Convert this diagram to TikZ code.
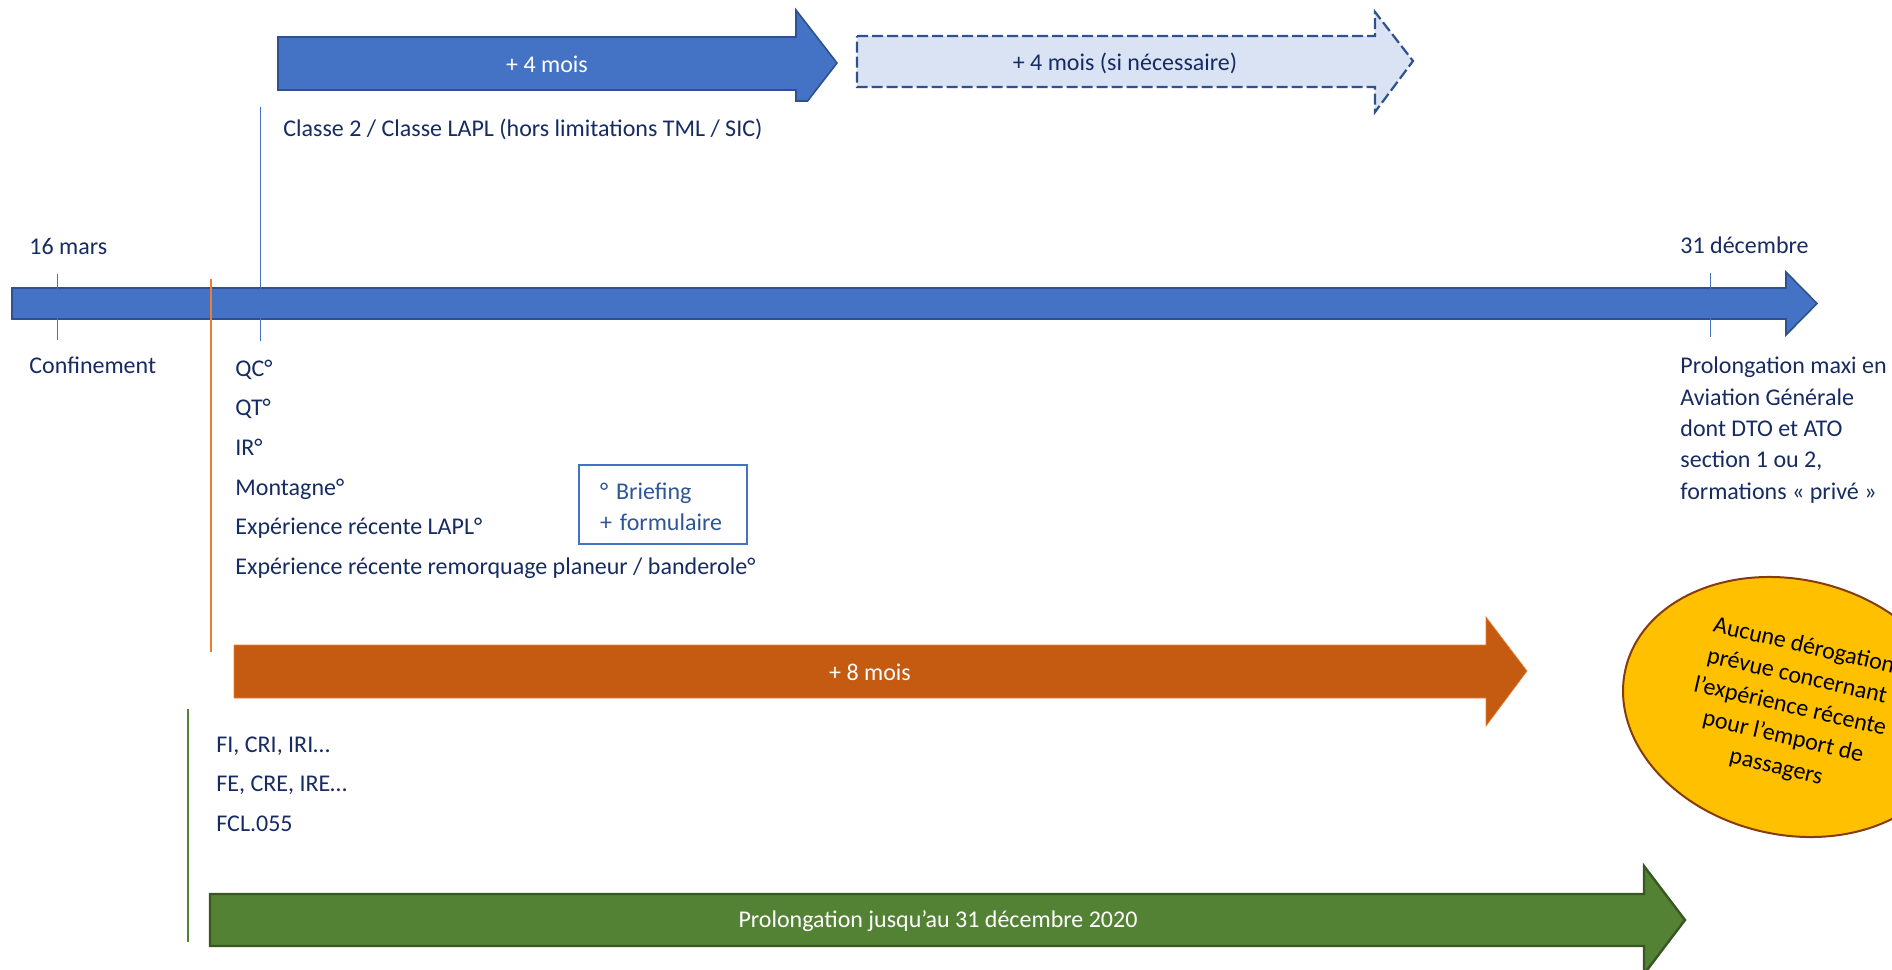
\documentclass[tikz,border=0pt]{standalone}
\usepackage{fontspec}
\setmainfont{Carlito}
\usepackage{tikz}
\usetikzlibrary{positioning,shapes.geometric}

\definecolor{timeblue}{HTML}{4472C4}
\definecolor{edgeblue}{HTML}{2F528F}
\definecolor{paleblue}{HTML}{DAE3F3}
\definecolor{navytext}{RGB}{22,43,98}
\definecolor{brieftext}{HTML}{2F5597}
\definecolor{rustfill}{HTML}{C55A11}
\definecolor{rustline}{HTML}{ED7D31}
\definecolor{leaffill}{HTML}{548235}
\definecolor{leafedge}{HTML}{385723}
\definecolor{goldfill}{HTML}{FFC000}
\definecolor{goldedge}{HTML}{843C0C}

\begin{document}
\begin{tikzpicture}[x=0.5pt,y=-0.5pt,node distance=19.85pt,
    lbl/.style={inner sep=0pt,anchor=base west,text=navytext,
      font=\fontsize{12}{15.65}\selectfont},
    inlbl/.style={inner sep=0pt,anchor=base,text=white,
      font=\fontsize{12}{15.65}\selectfont},
    tick/.style={timeblue,line width=0.5pt},
    bluearrow/.style={fill=timeblue,draw=edgeblue,line width=0.8pt,line join=miter},
    dasharrow/.style={fill=paleblue,draw=edgeblue,line width=1.1pt,
      dash pattern=on 5.5pt off 2pt},
    rustarrow/.style={fill=rustfill,draw=rustline,line width=0.3pt},
    leafarrow/.style={fill=leaffill,draw=leafedge,line width=1.2pt},
    briefbox/.style={draw=timeblue,line width=0.6pt,text=brieftext,align=left,
      inner xsep=10.5pt,text width=63pt,minimum height=39.5pt,
      font=\fontsize{12}{15.5}\selectfont},
    bubble/.style={ellipse,fill=goldfill,draw=goldedge,line width=1pt,
      minimum width=168.8pt,minimum height=127.6pt,inner sep=0pt,
      align=center,rotate=-13,font=\fontsize{12}{15.5}\selectfont}]
  \useasboundingbox (0,0) rectangle (1892,970);

  % arrows
  \draw[bluearrow] (12,288) -- (1786,288) -- (1786,272) -- (1817,303.5)
    -- (1786,335) -- (1786,319) -- (12,319) -- cycle;
  \draw[bluearrow] (278,37) -- (796,37) -- (796,10) -- (837,63)
    -- (807.6,101) -- (796,101) -- (796,90) -- (278,90) -- cycle;
  \draw[dasharrow] (857,36) -- (1375,36) -- (1375,12) -- (1413,61)
    -- (1375,112) -- (1375,87) -- (857,87) -- cycle;
  \draw[rustarrow] (234,645) -- (1486,645) -- (1486,617) -- (1527,671)
    -- (1486,726) -- (1486,698) -- (234,698) -- cycle;
  \draw[leafarrow] (210,894) -- (1644,894) -- (1644,866) -- (1685,920)
    -- (1644,974) -- (1644,946) -- (210,946) -- cycle;

  \node[inlbl] (four) at (547,72) {+ 4 mois};
  \node[inlbl,text=navytext] (fourmore) at (1125,70) {+ 4 mois (si nécessaire)};
  \node[inlbl] (eight) at (870,680) {+ 8 mois};
  \node[inlbl] (dec) at (938,927) {Prolongation jusqu’au 31 décembre 2020};

  % ticks
  \coordinate (mars top) at (57,274);
  \coordinate (mars bot) at (57,340);
  \coordinate (cls top) at (260,107);
  \coordinate (cls bot) at (260,341);
  \coordinate (end top) at (1710,273);
  \coordinate (end bot) at (1710,337);
  \coordinate (rust top) at (211,279);
  \coordinate (rust bot) at (211,652);
  \coordinate (leaf top) at (188,709);
  \coordinate (leaf bot) at (188,942);
  \draw[tick] (mars top) -- (mars bot);
  \draw[tick] (cls top) -- (cls bot);
  \draw[tick] (end top) -- (end bot);
  \draw[rustline,line width=0.8pt] (rust top) -- (rust bot);
  \draw[leaffill,line width=0.6pt] (leaf top) -- (leaf bot);

  % labels
  \node[lbl] (mars) at (29,254) {16 mars};
  \node[lbl] (conf) at (29,373) {Confinement};
  \node[lbl] (cls) at (283,136) {Classe 2 / Classe LAPL (hors limitations TML / SIC)};
  \node[lbl] (end) at (1680,253) {31 décembre};
  \node[lbl,align=left] (maxi) at (1680,499) {Prolongation maxi en\\
    Aviation Générale\\dont DTO et ATO\\section 1 ou 2,\\formations « privé »};

  \node[lbl] (qc) at (235,376) {QC°};
  \node[lbl] (qt) [below=of qc.base west,anchor=base west] {QT°};
  \node[lbl] (ir) [below=of qt.base west,anchor=base west] {IR°};
  \node[lbl] (mont) [below=of ir.base west,anchor=base west] {Montagne°};
  \node[lbl] (lapl) [below=of mont.base west,anchor=base west] {Expérience récente LAPL°};
  \node[lbl] (tow) [below=of lapl.base west,anchor=base west]
    {Expérience récente remorquage planeur / banderole°};

  \node[briefbox] (brief) at (663,504.5) {\rule{0pt}{11pt}° Briefing\\+ formulaire};

  \node[lbl] (fi) at (216,752) {FI, CRI, IRI…};
  \node[lbl] (fe) [below=of fi.base west,anchor=base west] {FE, CRE, IRE…};
  \node[lbl] (fcl) [below=of fe.base west,anchor=base west] {FCL.055};

  \node[bubble] (none) at (1790,707) {Aucune dérogation\\prévue concernant\\
    l’expérience récente\\pour l’emport de\\passagers};
\end{tikzpicture}
\end{document}
